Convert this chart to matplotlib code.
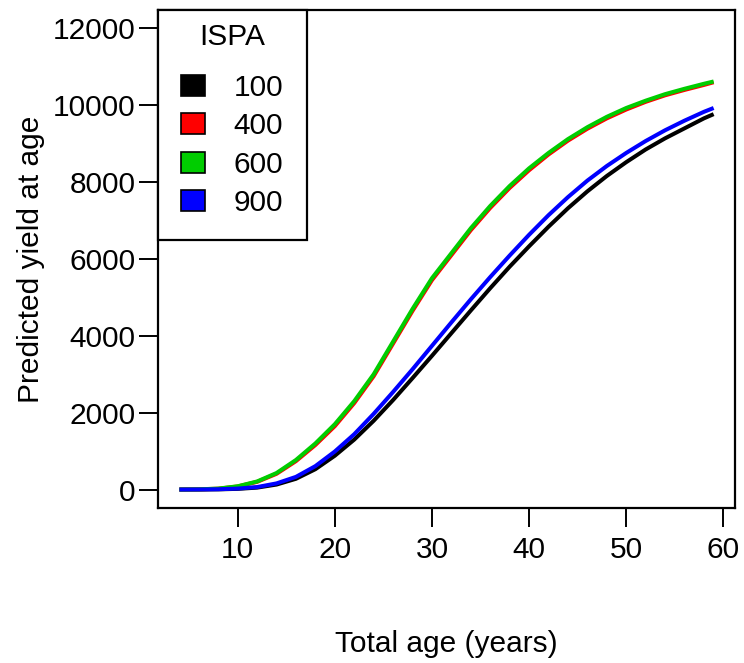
import matplotlib
matplotlib.use("Agg")
import matplotlib.pyplot as plt
from matplotlib.patches import Patch

plt.rcParams['font.family'] = ['Liberation Sans', 'DejaVu Sans']

# predicted yield by total age, one curve per ISPA level
age = [4, 6, 8, 10, 12, 14, 16, 18, 20, 22, 24, 26, 28, 30, 32, 34, 36, 38,
       40, 42, 44, 46, 48, 50, 52, 54, 56, 58, 59]
yield_100 = [0, 1, 5, 18, 50, 130, 280, 530, 880, 1300, 1790, 2330, 2900, 3480,
             4070, 4660, 5240, 5800, 6330, 6840, 7320, 7760, 8160, 8520, 8850,
             9140, 9400, 9660, 9770]
yield_400 = [0, 5, 22, 80, 200, 410, 740, 1160, 1650, 2250, 2950, 3800, 4650,
             5450, 6100, 6750, 7330, 7850, 8310, 8720, 9080, 9390, 9660, 9890,
             10090, 10260, 10400, 10530, 10600]
yield_600 = [0, 5, 25, 85, 210, 430, 770, 1200, 1700, 2300, 3000, 3850, 4700,
             5500, 6150, 6800, 7380, 7900, 8360, 8760, 9120, 9430, 9700, 9930,
             10120, 10290, 10430, 10560, 10620]
yield_900 = [0, 2, 8, 25, 65, 160, 330, 610, 990, 1440, 1970, 2540, 3130, 3740,
             4350, 4950, 5530, 6090, 6630, 7140, 7610, 8040, 8420, 8760, 9070,
             9350, 9600, 9830, 9930]

ispa = ["100", "400", "600", "900"]
colors = ["black", "#ff0000", "#00cd00", "#0000ff"]
series = [yield_100, yield_400, yield_600, yield_900]

fs = 21.5
fig = plt.figure(figsize=(7.44, 6.63), dpi=100)
ax = fig.add_axes([0.2124, 0.2338, 0.7755, 0.7511])

for ys, c in zip(series, colors):
    ax.plot(age, ys, color=c, lw=2.9, solid_capstyle='butt',
            solid_joinstyle='round')

ax.set_xlim(1.8, 61.2)
ax.set_ylim(-480, 12480)
ax.set_xticks([10, 20, 30, 40, 50, 60])
ax.set_yticks([0, 2000, 4000, 6000, 8000, 10000, 12000])
ax.tick_params(labelsize=fs, length=14, width=1.4, pad=2, color='black')
ax.tick_params(axis='x', pad=6)
for s in ax.spines.values():
    s.set_linewidth(1.6)

ax.set_xlabel("Total age (years)", fontsize=fs, labelpad=48)
ax.set_ylabel("Predicted yield at age", fontsize=fs, labelpad=6)

handles = [Patch(facecolor=c, edgecolor='black', linewidth=1.2) for c in colors]
leg = ax.legend(handles, ispa, title="ISPA", loc='upper left',
                bbox_to_anchor=(0, 1), borderaxespad=0, fontsize=fs,
                title_fontsize=fs, handlelength=0.8, handleheight=0.7,
                handletextpad=0.95, labelspacing=0.345, borderpad=0.45,
                fancybox=False, framealpha=1, edgecolor='black')
leg.get_frame().set_linewidth(1.6)
# extra room around the entries, tighter space above the title
leg._legend_handle_box.pad = 7.2
leg._legend_box.sep = 9.1

fig.savefig("out.png", dpi=100, facecolor='white')
